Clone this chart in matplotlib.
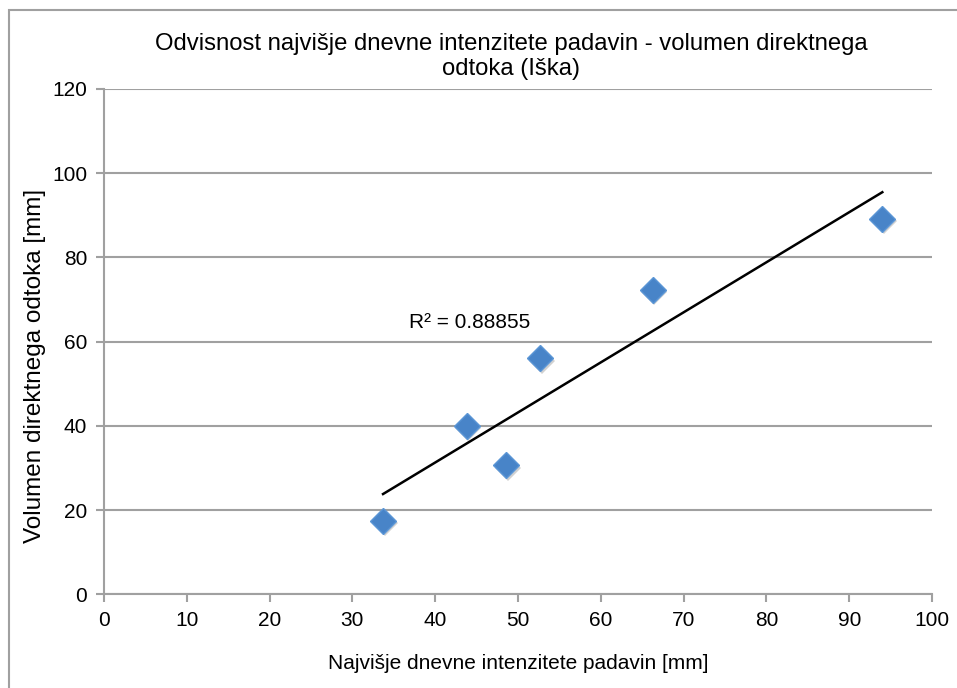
import numpy as np
import matplotlib
matplotlib.use("Agg")
import matplotlib.pyplot as plt
from matplotlib.patches import Rectangle
import matplotlib.transforms as mtransforms

plt.rcParams['font.family'] = ['Liberation Sans', 'DejaVu Sans']

# Observed events: peak daily rainfall intensity vs. direct runoff volume
intensity = [33.7, 43.8, 48.6, 52.7, 66.3, 94.0]
runoff = [17.5, 40.0, 30.6, 56.0, 72.3, 89.2]
r2_label = "R² = 0.88855"

x_ticks = [0, 10, 20, 30, 40, 50, 60, 70, 80, 90, 100]
y_ticks = [0, 20, 40, 60, 80, 100, 120]

title = "Odvisnost najvišje dnevne intenzitete padavin - volumen direktnega\nodtoka (Iška)"
x_label = "Najvišje dnevne intenzitete padavin [mm]"
y_label = "Volumen direktnega odtoka [mm]"

grey = "#a0a0a0"

fig = plt.figure(figsize=(9.57, 6.88), dpi=100)
fig.patch.set_facecolor("white")

# outer chart frame
fig.patches.append(Rectangle((9 / 957, -0.05), 1.2, (688 - 10) / 688 + 0.05,
                             transform=fig.transFigure, fill=False,
                             edgecolor=grey, linewidth=1.5))

ax = fig.add_axes([104 / 957, (688 - 594.3) / 688, 828 / 957, 505.3 / 688])
ax.set_xlim(0, 100)
ax.set_ylim(0, 120)
ax.set_xticks(x_ticks)
ax.set_yticks(y_ticks)

for side in ("top", "right"):
    ax.spines[side].set_visible(False)
for side in ("left", "bottom"):
    ax.spines[side].set_color(grey)
    ax.spines[side].set_linewidth(1.5)

ax.yaxis.grid(True, color=grey, linewidth=1.5)
ax.set_axisbelow(True)
ax.tick_params(axis="both", direction="out", length=6, width=1.5, color=grey,
               labelsize=15, pad=6)

# linear trend line over the range of observations
xs = np.array(intensity)
ys = np.array(runoff)
slope, intercept = np.polyfit(xs, ys, 1)
xl = np.array([xs.min(), xs.max()])
ax.plot(xl, slope * xl + intercept, color="black", linewidth=1.8, zorder=3)

# soft drop shadow under the markers
shadow = mtransforms.offset_copy(ax.transData, fig=fig, x=1.5, y=-2.5, units="dots")
ax.plot(xs, ys, linestyle="none", marker="D", markersize=13,
        color="#000000", alpha=0.18, markeredgewidth=0, transform=shadow, zorder=3.5)
ax.plot(xs, ys, linestyle="none", marker="D", markersize=13,
        markerfacecolor="#4884c8", markeredgecolor="#5b96d6",
        markeredgewidth=1.0, zorder=4)

ax.text(36.8, 64.5, r2_label, fontsize=15, ha="left", va="center")

ax.set_xlabel(x_label, fontsize=15, labelpad=17)
fig.text(35 / 957, 1 - 366 / 688, y_label, rotation=90, ha="center", va="center",
         fontsize=17.5)
fig.text(511 / 957, 1 - 56.5 / 688, title, ha="center", va="center", fontsize=17.2,
         linespacing=1.2)

fig.savefig("out.png", dpi=100)
